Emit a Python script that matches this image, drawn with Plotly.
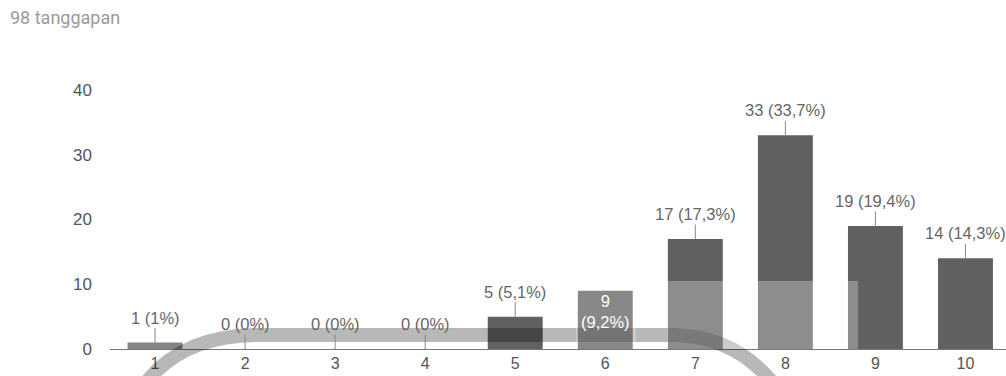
import plotly.graph_objects as go

categories = [1, 2, 3, 4, 5, 6, 7, 8, 9, 10]
counts = [1, 0, 0, 0, 5, 9, 17, 33, 19, 14]
labels = ["1 (1%)", "0 (0%)", "0 (0%)", "0 (0%)", "5 (5,1%)", "9<br>(9,2%)",
          "17 (17,3%)", "33 (33,7%)", "19 (19,4%)", "14 (14,3%)"]
inside = [False, False, False, False, False, True, False, False, False, False]
y_ticks = [0, 10, 20, 30, 40]
title_text = "98 tanggapan"

CHART_FONT = "Liberation Sans, Arial, sans-serif"

# pixel -> paper helpers (plot area spans 110..1006 x 90..349)
def px(x):
    return (x - 110) / 896

def py(y):
    return (349 - y) / 259

fig = go.Figure()
fig.add_trace(go.Bar(
    x=categories, y=counts, width=0.61,
    marker=dict(color="#616161", line=dict(width=0)),
    hoverinfo="skip",
))

for c, v, lab, ins in zip(categories, counts, labels, inside):
    if ins:
        fig.add_annotation(x=c, y=v, text=lab, showarrow=False, yanchor="top", yshift=1,
                           font=dict(color="#ffffff", size=16.5, family=CHART_FONT))
    else:
        fig.add_annotation(x=c, y=v, text=lab, showarrow=True, arrowhead=0,
                           arrowwidth=1, arrowcolor="#888888", ax=0, ay=-25,
                           font=dict(color="#666666", size=16.5, family=CHART_FONT))

fig.add_annotation(x=px(8), y=py(18), xref="paper", yref="paper", text=title_text,
                   showarrow=False, xanchor="left", yanchor="middle",
                   font=dict(color="#9a9a9a", size=18, family="Roboto"))

# scanned watermark traces (decoration)
arc = (f"M {px(148)},{py(380)} Q {px(185)},{py(336)} {px(255)},{py(335)} "
       f"L {px(675)},{py(335)} Q {px(735)},{py(337)} {px(772)},{py(382)}")
fig.add_shape(type="rect", xref="paper", yref="paper", layer="above",
              x0=px(125), x1=px(185), y0=py(349), y1=py(341),
              fillcolor="rgba(255,255,255,0.22)", line=dict(width=0))
fig.add_shape(type="path", path=arc, xref="paper", yref="paper", layer="above",
              line=dict(color="rgba(0,0,0,0.28)", width=14))
fig.add_shape(type="rect", xref="paper", yref="paper", layer="above",
              x0=px(667), x1=px(858), y0=py(349), y1=py(281),
              fillcolor="rgba(255,255,255,0.28)", line=dict(width=0))
fig.add_shape(type="rect", xref="paper", yref="paper", layer="above",
              x0=px(576), x1=px(636), y0=py(349), y1=py(288),
              fillcolor="rgba(255,255,255,0.25)", line=dict(width=0))

fig.update_layout(
    width=1006, height=376,
    margin=dict(l=110, r=0, t=90, b=27, autoexpand=False),
    paper_bgcolor="#ffffff", plot_bgcolor="#ffffff",
    showlegend=False,
    font=dict(family=CHART_FONT, size=17, color="#555555"),
    xaxis=dict(range=[0.5, 10.45], tickmode="array", tickvals=categories,
               ticktext=[str(c) for c in categories], showgrid=False, zeroline=False,
               showline=False, ticks="", ticklabelstandoff=3, automargin=False,
               tickfont=dict(size=16, color="#555555"), fixedrange=True),
    yaxis=dict(range=[0, 40], tickmode="array", tickvals=y_ticks, showgrid=False,
               zeroline=True, zerolinecolor="#777777", zerolinewidth=1, showline=False,
               ticks="", ticklabelstandoff=17, automargin=False,
               tickfont=dict(size=17, color="#555555"), fixedrange=True),
)

fig.write_html("out.html", config={"displayModeBar": False},
               post_script="document.body.style.margin='0px';document.body.style.overflow='hidden';")
